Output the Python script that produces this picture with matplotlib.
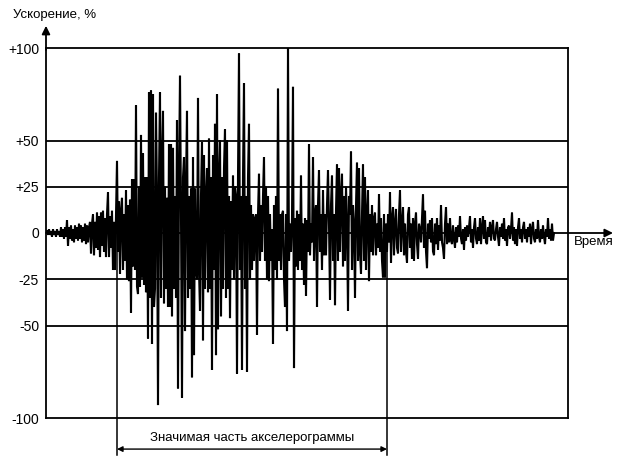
import numpy as np
import matplotlib
matplotlib.use("Agg")
import matplotlib.pyplot as plt

plt.rcParams['font.family'] = ['Liberation Sans', 'DejaVu Sans']

# accelerogram, one value every 0.1 s, % of peak
acc = [
    1, -1, 2, -1, 1, -2, 2, -1, 1, -2, 2, -1, 1, -2, 3, -2, 2, -3, 3, -2,
    7, -7, 3, -3, 4, -4, 2, -5, 4, -3, 3, -4, 5, -3, 4, -5, 3, -4, 5, -6,
    4, -5, 3, 6, -11, 5, 10, -12, 6, -8, 11, -9, 9, -13, 11, -7, 12, -10, 8, -13,
    10, 22, -13, 9, -8, 12, -20, 6, -20, 8,
    39, -10, 17, -22, 12, 19, -20, 10, -15, 23,
    -25, 15, -26, 18, -43, 29, -18, 29, -20, 69,
    -29, -33, 25, -29, 53, -24, 43, -28, 30, -32,
    30, -57, 76, -35, 77, -60, 75, -40, -30, 65,
    20, -93, 30, 76, -35, 40, 66, -38, 25, -30,
    19, -40, 48, -40, 48, -45, 46, -30, 20, -35,
    61, -84, 30, 85, 10, -89, 30, 41, -53, 25,
    66, -35, 20, -30, 24, -78, 41, -66, 24, -20,
    -25, 73, -20, -42, 20, 49, -58, 42, -30, 20,
    35, -32, 51, -30, 30, -74, 42, -20, 59, -66,
    75, -52, 30, 50,
    -45, 30, -30, 35, 56, -35, 50, -30, 20, -46,
    17, -20, 31, -25, 25, 20, -76, 30, 97, -20,
    20, -74, 30, 81, -30, 20, -75, 30, 59, -25,
    15, -20, 10, -15, 8, 10, -55, 10, 32, -15,
    15, -10, 20, 41, -15, 25, -25, 20, -26, 10,
    -15, 2, -60, 15, -20, 20, -25, 78, -15, 10,
    -20, 10, 12, -25, -40, 10, -53, 100, -15, 5,
    -10, 8, 79, -73, 8, -18, 12, -20, 10, -15,
    31, -20, 5, -28, 8, -34, 7, -10, 48, -12,
    5, -5, 41, -15, 10, 15, -40, 15, 34, -10,
    10, -20, 23, -12, 10, -12, 15, 34, 5, -36,
    15, 31, -15, 10, -39, 12, 37, -15, 35, -10,
    20, 32, -18, 20, -15, 25, 5, -42, 20, 10,
    44, -20, 15, 5, -35, 15, 38, -15, 35, -10,
    -22, 10, 37, -15, 30, -20, 10, 23, -26, 10,
    -10, 15, -12, 8, 11, -12, 5, -8, 21, -10,
    8, -15, -24, 10, -24, 5, -10, 10, -5, 22,
    -16, 8, 14, -12, 5, 13, -8, -11, 10, 23,
    -10, 5, 14, -12, 5, -10, -16, 10, 14, -8,
    5, -14, 8, -15, 5, 11, -6, -14, 5, 2,
    -5, 8, 21, -8, 12, -10, -19, 5, -3, 7,
    -5, 8, -10, -12, 5, -6, 8, -9, 4, -4,
    15, -5, -8, -14, 5, 14, -6, 5, -5, 8,
    -4, -6, 4, -3, -8, 3, -5, 4, -2, 9,
    -3, -6, 2, -9, 3, -4, 4, -2, 3, 9,
    -5, 2, -8, 3, 8, -3, -6, 3, -4, 8,
    -6, 3, 9, -3, 7, -5, -6, 3, -2, 6,
    -4, 3, 7, -3, -4, 2, 6, -2, -7, 3,
    -2, 5, -3, 8, -4, 2, -7, 3, 4, -3,
    2, 11, -4, 3, -6, 2, -7, 3, 8, -3,
    2, -5, 3, 6, -3, 2, -5, 3, -2, 5,
    -6, 2, 6, -3, -5, 2, -3, 7, -2, -5,
    2, -3, 4, -2, -6, 2, -2, 8, -3, 2, -4, 5, -4, 0,
]
dt = 0.1
t = dt + dt * np.arange(len(acc))

levels = [100, 50, 25, 0, -25, -50, -100]
level_labels = ['+100', '+50', '+25', '0', '-25', '-50', '-100']
t_end = 52.2          # right edge of the frame
sig_start, sig_stop = 7.1, 34.1   # significant part of the record

fig = plt.figure(figsize=(6.2, 4.63), dpi=100)
ax = fig.add_axes([46 / 620, 45 / 463, 522 / 620, 370 / 463])

ax.plot(t, acc, color='black', lw=1.5, solid_joinstyle='miter')

for lv in levels:
    if lv not in (0, 100, -100):
        ax.axhline(lv, color='black', lw=1.3)

ax.set_xlim(0, t_end)
ax.set_ylim(-100, 100)
ax.set_xticks([])
ax.set_yticks(levels)
ax.set_yticklabels(level_labels, fontsize=10)
ax.tick_params(axis='y', length=0, pad=5)
for s in ax.spines.values():
    s.set_linewidth(1.3)

# axes arrows
ax.annotate('', xy=(56.7, 0), xytext=(0, 0), annotation_clip=False,
            arrowprops=dict(arrowstyle='-|>', color='black', lw=1.3,
                            mutation_scale=12, shrinkA=0, shrinkB=0))
ax.annotate('', xy=(0, 112), xytext=(0, 99), annotation_clip=False,
            arrowprops=dict(arrowstyle='-|>', color='black', lw=1.3,
                            mutation_scale=12, shrinkA=0, shrinkB=0))
ax.text(54.8, -5, 'Время', fontsize=9.5, ha='center', va='center')
fig.text(13 / 620, 1 - 15 / 463, 'Ускорение, %', fontsize=9.5,
         ha='left', va='center')

# significant part marker
for x in (sig_start, sig_stop):
    ax.plot([x, x], [0, -120], color='black', lw=1.1, clip_on=False)
ax.annotate('', xy=(sig_start, -116.8), xytext=(sig_stop, -116.8),
            annotation_clip=False,
            arrowprops=dict(arrowstyle='<|-|>', color='black', lw=1.0,
                            mutation_scale=8, shrinkA=0, shrinkB=0))
ax.text((sig_start + sig_stop) / 2, -110.8, 'Значимая часть акселерограммы',
        fontsize=9.5, ha='center', va='center')

fig.savefig('out.png', dpi=100)
